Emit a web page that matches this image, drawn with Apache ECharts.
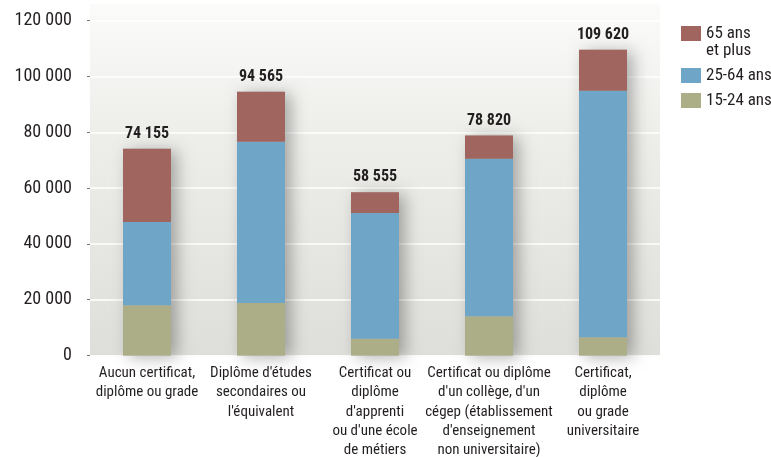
<!DOCTYPE html>
<html>
<head>
<meta charset="utf-8">
<script src="https://cdn.jsdelivr.net/npm/echarts@6/dist/echarts.min.js"></script>
<style>
  html, body { margin: 0; padding: 0; background: #ffffff; }
  #chart { width: 771px; height: 457px; }
</style>
</head>
<body>
<div id="chart"></div>
<script>
// Population by highest level of education, split by age group
const categories = [
  'Aucun certificat,\ndiplôme ou grade',
  'Diplôme d\'études\nsecondaires ou\nl\'équivalent',
  'Certificat ou\ndiplôme\nd\'apprenti\nou d\'une école\nde métiers',
  'Certificat ou diplôme\nd\'un collège, d\'un\ncégep (établissement\nd\'enseignement\nnon universitaire)',
  'Certificat,\ndiplôme\nou grade\nuniversitaire'
];
const age15to24 = [18050, 18780, 5960, 14110, 6570];
const age25to64 = [29830, 57810, 45140, 56380, 88330];
const age65plus = [26275, 17975, 7455, 8330, 14720];
const yTicks = [0, 20000, 40000, 60000, 80000, 100000, 120000];

const FONT = '"Roboto Condensed", "Open Sans", sans-serif';
const TEXT = '#231f20';

const totals = categories.map((_, i) => age15to24[i] + age25to64[i] + age65plus[i]);
const fmt = v => String(v).replace(/\B(?=(\d{3})+(?!\d))/g, ' ');

const chart = echarts.init(document.getElementById('chart'), null, { renderer: 'canvas' });

chart.setOption({
  animation: false,
  textStyle: { fontFamily: FONT, color: TEXT },
  grid: {
    left: 90, right: 111, top: 4, bottom: 101.5,
    outerBoundsMode: 'none',
    containLabel: false,
    show: true,
    borderWidth: 0,
    backgroundColor: {
      type: 'linear', x: 0, y: 0, x2: 0, y2: 1,
      colorStops: [
        { offset: 0, color: '#fbfbfa' },
        { offset: 0.35, color: '#eeeeeb' },
        { offset: 1, color: '#dedfda' }
      ]
    }
  },
  legend: {
    orient: 'vertical',
    left: 681, top: 8,
    padding: 0,
    itemWidth: 20, itemHeight: 15, itemGap: 8,
    icon: 'rect',
    selectedMode: false,
    textStyle: { fontFamily: FONT, fontSize: 17, color: TEXT, lineHeight: 17 },
    data: ['65 ans et plus', '25-64 ans', '15-24 ans'],
    // the leading blank line keeps "65 ans" level with its swatch
    formatter: name => name === '65 ans et plus' ? '\n65 ans\net plus' : name
  },
  xAxis: {
    type: 'category',
    data: categories,
    axisLine: { show: false },
    axisTick: { show: false },
    axisLabel: {
      interval: 0, margin: 8,
      fontFamily: FONT, fontSize: 15, lineHeight: 19.3, color: TEXT,
      verticalAlign: 'top'
    }
  },
  yAxis: {
    type: 'value',
    min: 0, max: 126000, interval: 20000,
    axisLine: { show: false },
    axisTick: { show: true, length: 3, customValues: yTicks, lineStyle: { color: '#777', width: 1 } },
    axisLabel: {
      customValues: yTicks,
      margin: 18, fontFamily: FONT, fontSize: 18, color: TEXT,
      formatter: v => fmt(v)
    },
    splitLine: { show: true, lineStyle: { color: '#ffffff', width: 1.5 } }
  },
  series: [
    {
      // soft shadow behind each full stack
      name: 'ombre', type: 'bar', barWidth: 48, barGap: '-100%', z: 1,
      data: totals, silent: true,
      itemStyle: {
        color: '#b9b9b5',
        shadowBlur: 16, shadowOffsetX: 6, shadowOffsetY: 2,
        shadowColor: 'rgba(0,0,0,0.3)'
      }
    },
    {
      name: '15-24 ans', type: 'bar', stack: 'age', barWidth: 48, z: 3,
      data: age15to24, itemStyle: { color: '#abae87' }
    },
    {
      name: '25-64 ans', type: 'bar', stack: 'age', barWidth: 48, z: 3,
      data: age25to64, itemStyle: { color: '#6fa5c7' }
    },
    {
      name: '65 ans et plus', type: 'bar', stack: 'age', barWidth: 48, z: 3,
      data: age65plus, itemStyle: { color: '#a0655f' },
      label: {
        show: true, position: 'top', distance: 7,
        fontFamily: FONT, fontSize: 16, fontWeight: 'bold', color: TEXT,
        formatter: p => fmt(age15to24[p.dataIndex] + age25to64[p.dataIndex] + age65plus[p.dataIndex])
      }
    }
  ]
});
</script>
</body>
</html>
